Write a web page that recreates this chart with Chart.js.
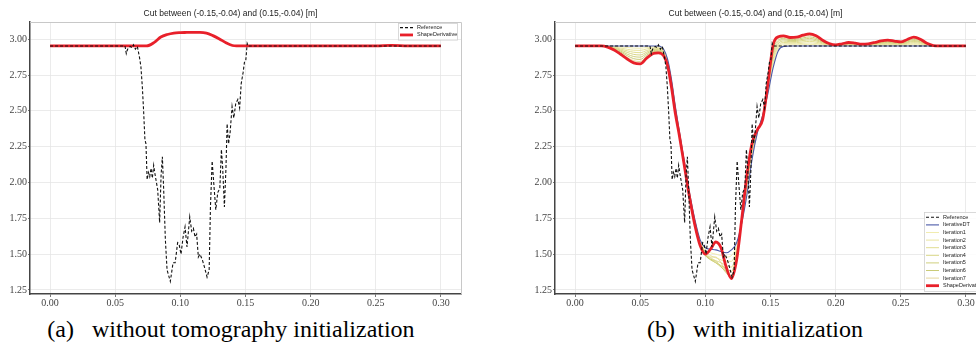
<!DOCTYPE html>
<html>
<head>
<meta charset="utf-8">
<script src="https://cdn.jsdelivr.net/npm/chart.js@4.4.1/dist/chart.umd.min.js"></script>
<style>
  html, body { margin: 0; padding: 0; background: #fff; overflow: hidden; width: 976px; height: 347px; }
  .wrap { position: absolute; top: 0; }
  .cap { position: absolute; top: 317px; font-family: "Liberation Serif", serif; font-size: 24px; line-height: 24px;
         color: #000; white-space: pre; text-align: center; }
</style>
</head>
<body>
<div class="wrap" style="left:0px"><canvas id="chartA" width="470" height="310"></canvas></div>
<div class="wrap" style="left:525px"><canvas id="chartB" width="470" height="310"></canvas></div>
<div class="cap" style="left:0px; width:462px">(a)   without tomography initialization</div>
<div class="cap" style="left:555px; width:400px">(b)   with initialization</div>
<script>
var title = 'Cut between (-0.15,-0.04) and (0.15,-0.04) [m]';
var xTicks = [0, 0.05, 0.10, 0.15, 0.20, 0.25, 0.30];
var yTicks = [1.25, 1.50, 1.75, 2.00, 2.25, 2.50, 2.75, 3.00];

// measured reference profile (dashed black), same in both panels
var refX = [0.000, 0.0575, 0.0585, 0.0595, 0.0615, 0.063, 0.064, 0.0655, 0.067, 0.0687, 0.0697, 0.0708, 0.0718, 0.0728,
  0.0736, 0.0745, 0.0755, 0.0765, 0.0775, 0.0785, 0.0795, 0.0805, 0.0826, 0.0841, 0.0852, 0.0862, 0.0872, 0.0885, 0.0898,
  0.0923, 0.0944, 0.0960, 0.0979, 0.0990, 0.1005, 0.1021, 0.1036, 0.1051, 0.1072, 0.1087, 0.1100, 0.1113, 0.1125, 0.1138,
  0.1150, 0.1169, 0.1185, 0.1205, 0.1221, 0.1231, 0.1244, 0.1256, 0.1272, 0.1287, 0.1303, 0.1315, 0.1325, 0.1338, 0.1350,
  0.1359, 0.1370, 0.1382, 0.1397, 0.1410, 0.1425, 0.1441, 0.1455, 0.1467, 0.1482, 0.1492, 0.1502, 0.1513, 0.1520, 0.300];
var refY = [2.953, 2.953, 2.90, 2.93, 2.95, 2.94, 2.96, 2.93, 2.95, 2.87, 2.81, 2.67, 2.50, 2.30,
  2.27, 2.02, 2.07, 2.04, 2.10, 2.03, 2.12, 2.06, 1.95, 1.72, 2.05, 2.18, 1.95, 1.60, 1.39,
  1.31, 1.44, 1.44, 1.58, 1.57, 1.50, 1.62, 1.69, 1.55, 1.76, 1.66, 1.68, 1.62, 1.64, 1.48,
  1.50, 1.46, 1.41, 1.34, 1.39, 1.83, 2.15, 2.00, 1.81, 1.93, 1.96, 2.23, 2.10, 1.83, 2.10,
  2.41, 2.27, 2.35, 2.53, 2.45, 2.55, 2.58, 2.52, 2.69, 2.77, 2.84, 2.85, 2.97, 2.953, 2.953];

// (a) shape derivative without initialization
var shapeAX = [0.000, 0.074, 0.080, 0.085, 0.090, 0.095, 0.100, 0.105, 0.110, 0.115, 0.120, 0.125, 0.130, 0.135,
  0.140, 0.143, 0.200, 0.250, 0.262, 0.275, 0.300];
var shapeAY = [2.953, 2.953, 2.978, 3.015, 3.033, 3.043, 3.046, 3.047, 3.048, 3.048, 3.043, 3.025, 3.002, 2.975,
  2.956, 2.953, 2.953, 2.953, 2.957, 2.953, 2.953];

// (b) x positions shared by the smooth curves
var gridX = [0.000, 0.020, 0.025, 0.030, 0.035, 0.040, 0.045, 0.050, 0.055, 0.060, 0.064, 0.068, 0.071, 0.074, 0.077,
  0.080, 0.084, 0.088, 0.092, 0.096, 0.100, 0.104, 0.108, 0.112, 0.116, 0.120, 0.124, 0.128, 0.132, 0.136,
  0.140, 0.144, 0.148, 0.152, 0.156, 0.160, 0.165, 0.170, 0.175, 0.180, 0.185, 0.190, 0.195, 0.200, 0.205,
  0.210, 0.215, 0.220, 0.225, 0.230, 0.235, 0.240, 0.245, 0.250, 0.255, 0.260, 0.265, 0.270, 0.275, 0.280, 0.300];
var iterDT = [2.953, 2.953, 2.953, 2.953, 2.953, 2.953, 2.953, 2.953, 2.953, 2.953, 2.953, 2.93, 2.86, 2.72, 2.53,
  2.36, 2.14, 1.92, 1.74, 1.60, 1.545, 1.535, 1.53, 1.518, 1.51, 1.53, 1.58, 1.72, 1.92, 2.17,
  2.35, 2.47, 2.62, 2.80, 2.92, 2.95, 2.953, 2.953, 2.953, 2.953, 2.953, 2.953, 2.953, 2.953, 2.953,
  2.953, 2.953, 2.953, 2.953, 2.953, 2.953, 2.953, 2.953, 2.953, 2.953, 2.953, 2.953, 2.953, 2.953, 2.953, 2.953];
var iter1 = [2.953, 2.953, 2.952, 2.950, 2.946, 2.942, 2.938, 2.937, 2.942, 2.946, 2.947, 2.924, 2.854, 2.713, 2.524,
  2.356, 2.136, 1.916, 1.735, 1.595, 1.53, 1.51, 1.50, 1.49, 1.48, 1.49, 1.56, 1.72, 1.94, 2.18,
  2.35, 2.47, 2.63, 2.82, 2.932, 2.959, 2.960, 2.961, 2.962, 2.964, 2.962, 2.958, 2.955, 2.954, 2.955,
  2.956, 2.955, 2.954, 2.955, 2.956, 2.957, 2.958, 2.957, 2.957, 2.959, 2.961, 2.959, 2.955, 2.954, 2.953, 2.953];
var iter2 = [2.953, 2.953, 2.951, 2.946, 2.938, 2.930, 2.923, 2.922, 2.932, 2.940, 2.941, 2.919, 2.849, 2.706, 2.518,
  2.353, 2.133, 1.913, 1.730, 1.590, 1.52, 1.49, 1.475, 1.46, 1.45, 1.45, 1.54, 1.73, 1.96, 2.20,
  2.36, 2.46, 2.64, 2.84, 2.944, 2.968, 2.968, 2.968, 2.972, 2.974, 2.971, 2.963, 2.957, 2.955, 2.957,
  2.959, 2.958, 2.956, 2.957, 2.959, 2.962, 2.963, 2.962, 2.960, 2.964, 2.968, 2.965, 2.958, 2.954, 2.953, 2.953];
var iter3 = [2.953, 2.953, 2.950, 2.943, 2.931, 2.919, 2.909, 2.906, 2.921, 2.933, 2.935, 2.913, 2.843, 2.699, 2.511,
  2.349, 2.129, 1.909, 1.725, 1.585, 1.51, 1.475, 1.455, 1.44, 1.42, 1.41, 1.52, 1.73, 1.97, 2.21,
  2.36, 2.46, 2.65, 2.86, 2.956, 2.977, 2.975, 2.976, 2.981, 2.985, 2.980, 2.968, 2.959, 2.956, 2.959,
  2.962, 2.960, 2.958, 2.959, 2.962, 2.966, 2.968, 2.966, 2.964, 2.970, 2.976, 2.971, 2.960, 2.954, 2.953, 2.953];
var iter4 = [2.953, 2.953, 2.949, 2.939, 2.924, 2.908, 2.894, 2.890, 2.910, 2.927, 2.929, 2.908, 2.838, 2.693, 2.505,
  2.345, 2.125, 1.905, 1.720, 1.580, 1.50, 1.465, 1.44, 1.42, 1.40, 1.38, 1.51, 1.74, 1.99, 2.22,
  2.36, 2.46, 2.66, 2.88, 2.968, 2.987, 2.983, 2.984, 2.991, 2.995, 2.989, 2.973, 2.962, 2.957, 2.961,
  2.965, 2.963, 2.959, 2.961, 2.965, 2.971, 2.973, 2.970, 2.967, 2.976, 2.984, 2.977, 2.963, 2.955, 2.953, 2.953];
var iter5 = [2.953, 2.953, 2.948, 2.936, 2.917, 2.896, 2.879, 2.875, 2.900, 2.920, 2.923, 2.902, 2.832, 2.686, 2.499,
  2.341, 2.121, 1.901, 1.715, 1.575, 1.495, 1.46, 1.44, 1.41, 1.38, 1.35, 1.49, 1.74, 2.01, 2.24,
  2.36, 2.45, 2.67, 2.90, 2.981, 2.996, 2.990, 2.991, 3.000, 3.006, 2.997, 2.978, 2.964, 2.957, 2.962,
  2.968, 2.965, 2.961, 2.962, 2.968, 2.975, 2.978, 2.974, 2.971, 2.981, 2.991, 2.982, 2.965, 2.955, 2.953, 2.953];
var iter6 = [2.953, 2.953, 2.947, 2.932, 2.910, 2.885, 2.864, 2.859, 2.889, 2.913, 2.917, 2.896, 2.826, 2.679, 2.493,
  2.338, 2.118, 1.898, 1.710, 1.570, 1.49, 1.465, 1.45, 1.415, 1.37, 1.34, 1.48, 1.74, 2.03, 2.25,
  2.37, 2.45, 2.68, 2.92, 2.993, 3.005, 2.997, 2.999, 3.009, 3.016, 3.006, 2.983, 2.966, 2.958, 2.964,
  2.971, 2.967, 2.962, 2.964, 2.971, 2.979, 2.983, 2.979, 2.974, 2.987, 2.999, 2.988, 2.967, 2.955, 2.953, 2.953];
var iter7 = [2.953, 2.953, 2.946, 2.929, 2.902, 2.873, 2.850, 2.844, 2.879, 2.907, 2.911, 2.891, 2.821, 2.672, 2.486,
  2.334, 2.114, 1.894, 1.705, 1.565, 1.49, 1.48, 1.48, 1.44, 1.38, 1.33, 1.47, 1.75, 2.04, 2.27,
  2.37, 2.44, 2.68, 2.94, 3.005, 3.014, 3.005, 3.006, 3.019, 3.027, 3.015, 2.988, 2.968, 2.959, 2.966,
  2.974, 2.970, 2.964, 2.966, 2.974, 2.984, 2.988, 2.983, 2.978, 2.992, 3.006, 2.994, 2.970, 2.956, 2.953, 2.953];
var shapeB = [2.953, 2.953, 2.945, 2.925, 2.895, 2.862, 2.835, 2.828, 2.868, 2.900, 2.905, 2.885, 2.815, 2.665, 2.48,
  2.33, 2.11, 1.89, 1.70, 1.56, 1.500, 1.535, 1.585, 1.545, 1.41, 1.33, 1.46, 1.75, 2.06, 2.28,
  2.37, 2.44, 2.69, 2.96, 3.017, 3.023, 3.012, 3.014, 3.028, 3.037, 3.024, 2.993, 2.970, 2.960, 2.968,
  2.977, 2.972, 2.965, 2.968, 2.977, 2.988, 2.993, 2.987, 2.981, 2.998, 3.014, 3.000, 2.972, 2.956, 2.953, 2.953];

var iterations = [iter1, iter2, iter3, iter4, iter5, iter6, iter7];
var iterColors = ['#efeaa6', '#e7e194', '#ded984', '#d4d178', '#cbcb6e', '#c4c568', '#e2d390'];

function pts(xs, ys) {
  return xs.map(function (x, i) { return { x: x, y: ys[i] }; });
}

function refSet() {
  return { label: 'Reference', data: pts(refX, refY), borderColor: '#111', borderWidth: 1.1,
           borderDash: [3, 2], tension: 0, order: 0 };
}

// legend box inside the plot, like matplotlib
var boxLegend = {
  id: 'boxLegend',
  afterDatasetsDraw: function (chart, args, o) {
    var ctx = chart.ctx, a = chart.chartArea, ds = chart.data.datasets;
    var h = ds.length * o.rowH + 2 * o.pad;
    var left = a.right - o.right - o.width;
    var top = o.top != null ? a.top + o.top : a.bottom - o.bottom - h;
    ctx.save();
    ctx.fillStyle = 'rgba(255,255,255,0.85)';
    ctx.strokeStyle = '#d0d0d0';
    ctx.lineWidth = 0.8;
    ctx.fillRect(left, top, o.width, h);
    ctx.strokeRect(left + 0.5, top + 0.5, o.width, h);
    ctx.font = o.fontSize + 'px "Liberation Sans", sans-serif';
    ctx.textBaseline = 'middle';
    ds.forEach(function (d, i) {
      var y = top + o.pad + o.rowH * (i + 0.5);
      ctx.beginPath();
      ctx.setLineDash(d.borderDash || []);
      ctx.strokeStyle = d.borderColor;
      ctx.lineWidth = d.borderWidth;
      ctx.moveTo(left + 2, y);
      ctx.lineTo(left + 15, y);
      ctx.stroke();
      ctx.setLineDash([]);
      ctx.fillStyle = '#222';
      ctx.fillText(d.label, left + 19, y);
    });
    ctx.restore();
  }
};

var frame = {
  id: 'frame',
  beforeDatasetsDraw: function (chart) {
    var ctx = chart.ctx, a = chart.chartArea;
    ctx.save();
    ctx.strokeStyle = '#c8c8c8';
    ctx.lineWidth = 1;
    ctx.beginPath();
    ctx.moveTo(a.left, a.top + 0.5);
    ctx.lineTo(a.right + 0.5, a.top + 0.5);
    ctx.lineTo(a.right + 0.5, a.bottom);
    ctx.stroke();
    ctx.restore();
  }
};

function makeOptions(legendOpts) {
  return {
    responsive: false,
    animation: false,
    events: [],
    devicePixelRatio: 1,
    layout: { padding: { left: 0, right: 9, top: 0, bottom: 0 } },
    elements: { point: { radius: 0 } },
    plugins: {
      legend: { display: false },
      tooltip: { enabled: false },
      title: { display: true, text: title, color: '#222',
               font: { family: 'Liberation Sans', size: 8.5, weight: 'normal' },
               padding: { top: 8.8, bottom: 3 } },
      boxLegend: legendOpts
    },
    scales: {
      x: {
        type: 'linear', min: -0.0154, max: 0.3154,
        afterBuildTicks: function (s) { s.ticks = xTicks.map(function (v) { return { value: v }; }); },
        afterFit: function (s) { s.height = 16; },
        grid: { color: '#e6e6e6', lineWidth: 0.8, tickLength: 3, tickColor: '#555' },
        border: { color: '#444', width: 1.5 },
        ticks: { autoSkip: false, maxRotation: 0, padding: 0, color: '#444',
                 font: { family: 'Liberation Serif', size: 10 },
                 callback: function (v) { return v.toFixed(2); } }
      },
      y: {
        type: 'linear', min: 1.222, max: 3.12,
        afterBuildTicks: function (s) { s.ticks = yTicks.map(function (v) { return { value: v }; }); },
        afterFit: function (s) { s.width = 30; },
        grid: { color: '#e6e6e6', lineWidth: 0.8, tickLength: 2, tickColor: '#555' },
        border: { color: '#444', width: 1.5 },
        ticks: { autoSkip: false, padding: 1, color: '#444',
                 font: { family: 'Liberation Serif', size: 10 },
                 callback: function (v) { return v.toFixed(2); } }
      }
    }
  };
}

new Chart(document.getElementById('chartA'), {
  type: 'line',
  data: {
    datasets: [
      refSet(),
      { label: 'ShapeDerivative', data: pts(shapeAX, shapeAY), borderColor: '#e8202a', borderWidth: 2.8,
        cubicInterpolationMode: 'monotone', order: 1 }
    ]
  },
  options: makeOptions({ width: 59, right: 4, top: 1, rowH: 7.3, pad: 1, fontSize: 5.5 }),
  plugins: [frame, boxLegend]
});

var setsB = [refSet(),
  { label: 'IterativeDT', data: pts(gridX, iterDT), borderColor: '#4a58a8', borderWidth: 1.1,
    cubicInterpolationMode: 'monotone', order: 2 }];
iterations.forEach(function (ys, i) {
  setsB.push({ label: 'Iteration' + (i + 1), data: pts(gridX, ys), borderColor: iterColors[i], borderWidth: 0.9,
               cubicInterpolationMode: 'monotone', order: 3 });
});
setsB.push({ label: 'ShapeDerivative', data: pts(gridX, shapeB), borderColor: '#e8202a', borderWidth: 2.8,
             cubicInterpolationMode: 'monotone', order: 1 });

new Chart(document.getElementById('chartB'), {
  type: 'line',
  data: { datasets: setsB },
  options: makeOptions({ width: 62, right: 0, bottom: 3, rowH: 7.6, pad: 1.5, fontSize: 5.5 }),
  plugins: [frame, boxLegend]
});
</script>
</body>
</html>
